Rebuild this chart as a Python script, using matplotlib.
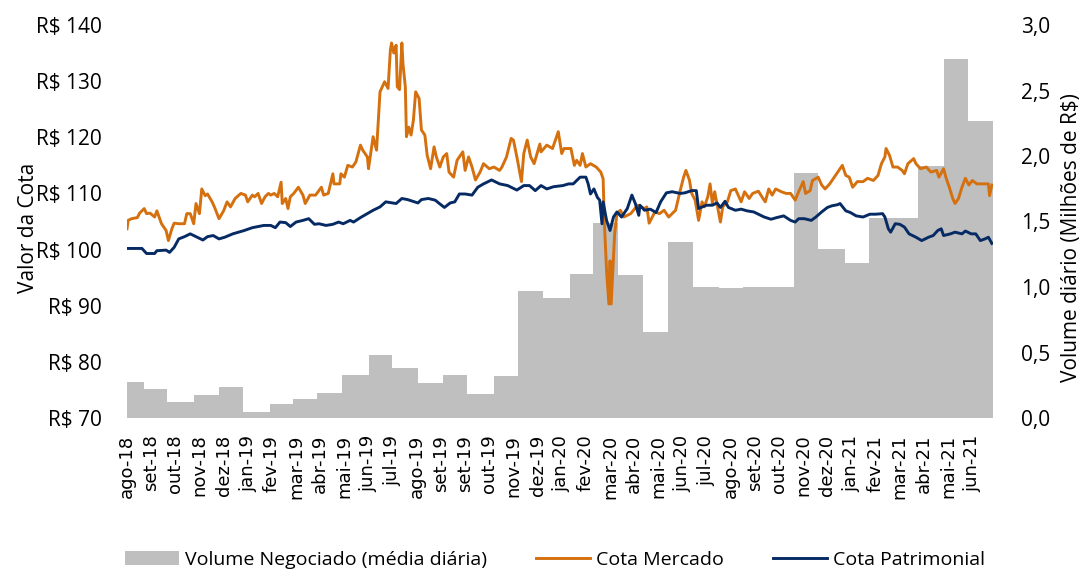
import numpy as np
import matplotlib.pyplot as plt
from matplotlib.patches import Patch
from matplotlib.lines import Line2D

# eixo x em dias úteis (como o gráfico original, por pregão)
inicio = np.datetime64('2018-08-13')
fim = np.datetime64('2021-07-01')

# volume negociado, média diária por mês (milhões de R$)
meses = np.arange('2018-08', '2021-07', dtype='datetime64[M]')
volume = [0.275, 0.22, 0.12, 0.175, 0.24,
          0.045, 0.11, 0.145, 0.19, 0.33, 0.48, 0.38, 0.27, 0.33, 0.185, 0.32, 0.97,
          0.915, 1.10, 1.49, 1.09, 0.66, 1.345, 1.00, 0.99, 1.00, 1.00, 1.87, 1.29,
          1.18, 1.525, 1.525, 1.92, 2.74, 2.27]

merc_datas = [
    '2018-08-13', '2018-08-14', '2018-08-17', '2018-08-24', '2018-08-28', '2018-09-03',
    '2018-09-05', '2018-09-10', '2018-09-14', '2018-09-18', '2018-09-21', '2018-09-24',
    '2018-09-28', '2018-10-02', '2018-10-05', '2018-10-09', '2018-10-15', '2018-10-22',
    '2018-10-24', '2018-10-29', '2018-11-01', '2018-11-05', '2018-11-08', '2018-11-12',
    '2018-11-15', '2018-11-19', '2018-11-23', '2018-11-27', '2018-12-03', '2018-12-07',
    '2018-12-12', '2018-12-17', '2018-12-21', '2018-12-28', '2019-01-03', '2019-01-07',
    '2019-01-11', '2019-01-15', '2019-01-18', '2019-01-23', '2019-01-28', '2019-01-31',
    '2019-02-04', '2019-02-07', '2019-02-12', '2019-02-15', '2019-02-18', '2019-02-21',
    '2019-02-25', '2019-02-27', '2019-03-04', '2019-03-08', '2019-03-14', '2019-03-18',
    '2019-03-22', '2019-03-29', '2019-04-05', '2019-04-09', '2019-04-15', '2019-04-19',
    '2019-04-22', '2019-04-29', '2019-04-30', '2019-05-03', '2019-05-08', '2019-05-14',
    '2019-05-17', '2019-05-23', '2019-05-27', '2019-05-31', '2019-06-03', '2019-06-07',
    '2019-06-12', '2019-06-17', '2019-06-21', '2019-06-26', '2019-06-28', '2019-07-01',
    '2019-07-03', '2019-07-05', '2019-07-08', '2019-07-10', '2019-07-12', '2019-07-15',
    '2019-07-17', '2019-07-18', '2019-07-22', '2019-07-24', '2019-07-26', '2019-07-30',
    '2019-08-02', '2019-08-06', '2019-08-09', '2019-08-13', '2019-08-16', '2019-08-21',
    '2019-08-23', '2019-08-28', '2019-09-02', '2019-09-05', '2019-09-09', '2019-09-13',
    '2019-09-18', '2019-09-20', '2019-09-25', '2019-09-27', '2019-10-02', '2019-10-07',
    '2019-10-10', '2019-10-16', '2019-10-21', '2019-10-28', '2019-11-01', '2019-11-08',
    '2019-11-12', '2019-11-18', '2019-11-22', '2019-11-26', '2019-11-29', '2019-12-05',
    '2019-12-09', '2019-12-12', '2019-12-17', '2019-12-20', '2019-12-27', '2019-12-30',
    '2020-01-06', '2020-01-13', '2020-01-16', '2020-01-20', '2020-01-23', '2020-01-27',
    '2020-02-04', '2020-02-07', '2020-02-11', '2020-02-14', '2020-02-18', '2020-02-21',
    '2020-02-27', '2020-03-05', '2020-03-11', '2020-03-13', '2020-03-16', '2020-03-18',
    '2020-03-20', '2020-03-23', '2020-03-24', '2020-03-27', '2020-03-31', '2020-04-03',
    '2020-04-08', '2020-04-16', '2020-04-24', '2020-05-04', '2020-05-06', '2020-05-08',
    '2020-05-15', '2020-05-21', '2020-05-27', '2020-06-02', '2020-06-10', '2020-06-16',
    '2020-06-19', '2020-06-23', '2020-06-26', '2020-06-30', '2020-07-03', '2020-07-08',
    '2020-07-13', '2020-07-15', '2020-07-20', '2020-07-22', '2020-07-24', '2020-07-28',
    '2020-07-31', '2020-08-04', '2020-08-06', '2020-08-12', '2020-08-17', '2020-08-21',
    '2020-08-25', '2020-08-28', '2020-09-02', '2020-09-08', '2020-09-11', '2020-09-18',
    '2020-09-24', '2020-09-28', '2020-10-01', '2020-10-06', '2020-10-09', '2020-10-16',
    '2020-10-22', '2020-10-28', '2020-11-03', '2020-11-06', '2020-11-12', '2020-11-16',
    '2020-11-20', '2020-11-24', '2020-12-01', '2020-12-04', '2020-12-09', '2020-12-15',
    '2020-12-21', '2020-12-28', '2020-12-30', '2021-01-04', '2021-01-07', '2021-01-12',
    '2021-01-18', '2021-01-25', '2021-01-29', '2021-02-05', '2021-02-11', '2021-02-16',
    '2021-02-19', '2021-02-22', '2021-02-25', '2021-03-02', '2021-03-08', '2021-03-12',
    '2021-03-16', '2021-03-19', '2021-03-26', '2021-03-30', '2021-04-05', '2021-04-12',
    '2021-04-16', '2021-04-23', '2021-04-27', '2021-05-03', '2021-05-05', '2021-05-10',
    '2021-05-13', '2021-05-17', '2021-05-20', '2021-05-25', '2021-05-28', '2021-06-02',
    '2021-06-07', '2021-06-11', '2021-06-21', '2021-06-25', '2021-06-28', '2021-06-30']
merc_valores = [
    103.7, 105.2, 105.5, 105.7, 106.5, 107.3,
    106.4, 106.5, 105.8, 106.9, 105.2, 104.6,
    103.4, 101.6, 103.7, 104.7, 104.6, 104.6,
    106.4, 106.4, 104.6, 108.2, 106.4, 110.8,
    109.6, 109.9, 108.5, 107.6, 105.5, 106.9,
    108.5, 107.6, 109.1, 110.0, 109.7, 108.5,
    109.7, 109.4, 110.0, 108.2, 109.4, 110.0,
    109.7, 110.0, 109.4, 112.0, 108.2, 109.1,
    107.3, 109.4, 110.0, 111.1, 109.7, 108.2,
    109.7, 109.7, 111.1, 109.7, 110.0, 113.5,
    111.7, 111.7, 113.5, 112.9, 115.0, 114.7,
    115.6, 118.6, 117.7, 116.5, 114.4, 120.1,
    117.7, 128.1, 129.9, 128.7, 135.5, 136.8,
    135.0, 136.4, 129.0, 128.5, 136.8, 133.0,
    129.0, 120.1, 121.8, 120.4, 123.0, 128.1,
    126.9, 121.3, 120.4, 116.8, 114.4, 118.3,
    116.5, 114.7, 116.5, 117.1, 113.8, 112.9,
    115.9, 116.5, 117.4, 114.1, 116.5, 114.7,
    112.4, 113.8, 115.3, 114.4, 114.7, 114.1,
    114.7, 116.5, 119.8, 119.5, 116.5, 112.1,
    117.1, 119.5, 116.5, 115.3, 118.8, 117.4,
    118.6, 118.0, 119.8, 121.0, 117.1, 118.0,
    118.0, 115.0, 115.9, 115.0, 117.1, 114.7,
    115.3, 114.7, 113.8, 112.6, 105.2, 96.2,
    90.3, 98.0, 90.3, 102.8, 106.4, 107.0,
    105.8, 106.4, 107.9, 107.3, 107.6, 104.7,
    106.7, 106.4, 107.0, 105.8, 107.0, 110.5,
    112.9, 114.1, 112.4, 110.0, 108.8, 105.2,
    108.5, 107.6, 109.4, 111.7, 108.2, 110.3,
    107.0, 104.9, 107.6, 108.5, 110.5, 110.8,
    109.9, 108.5, 110.3, 109.1, 110.0, 110.4,
    109.1, 108.5, 110.8, 109.7, 110.8, 110.3,
    110.0, 110.0, 108.8, 110.3, 112.1, 110.0,
    110.5, 112.3, 112.9, 111.5, 110.8, 111.7,
    112.9, 114.4, 115.0, 113.2, 112.9, 111.1,
    112.1, 112.1, 112.7, 112.3, 113.2, 115.3,
    116.5, 118.0, 116.8, 114.7, 114.7, 114.1,
    113.5, 115.3, 116.2, 115.3, 114.4, 114.7,
    113.8, 114.1, 112.9, 114.4, 112.9, 111.1,
    109.1, 108.2, 109.1, 111.1, 112.7, 111.5,
    112.3, 111.7, 111.7, 111.7, 109.6, 111.5]

patr_datas = [
    '2018-08-13', '2018-08-30', '2018-09-05', '2018-09-14', '2018-09-18', '2018-09-28',
    '2018-10-03', '2018-10-09', '2018-10-15', '2018-10-22', '2018-10-29', '2018-11-05',
    '2018-11-13', '2018-11-19', '2018-11-26', '2018-12-03', '2018-12-10', '2018-12-19',
    '2019-01-02', '2019-01-11', '2019-01-18', '2019-01-25', '2019-02-04', '2019-02-08',
    '2019-02-14', '2019-02-21', '2019-02-27', '2019-03-06', '2019-03-14', '2019-03-21',
    '2019-03-28', '2019-04-03', '2019-04-11', '2019-04-19', '2019-04-26', '2019-05-02',
    '2019-05-10', '2019-05-15', '2019-05-23', '2019-05-31', '2019-06-07', '2019-06-17',
    '2019-06-24', '2019-07-05', '2019-07-12', '2019-07-19', '2019-08-01', '2019-08-06',
    '2019-08-14', '2019-08-22', '2019-08-27', '2019-09-03', '2019-09-10', '2019-09-16',
    '2019-09-20', '2019-09-27', '2019-10-07', '2019-10-14', '2019-10-21', '2019-10-30',
    '2019-11-08', '2019-11-19', '2019-11-29', '2019-12-09', '2019-12-16', '2019-12-23',
    '2019-12-30', '2020-01-06', '2020-01-14', '2020-01-24', '2020-01-31', '2020-02-06',
    '2020-02-14', '2020-02-21', '2020-02-25', '2020-02-27', '2020-03-03', '2020-03-06',
    '2020-03-10', '2020-03-12', '2020-03-13', '2020-03-18', '2020-03-23', '2020-03-26',
    '2020-03-31', '2020-04-06', '2020-04-13', '2020-04-17', '2020-04-22', '2020-04-27',
    '2020-04-28', '2020-05-04', '2020-05-11', '2020-05-18', '2020-05-22', '2020-05-29',
    '2020-06-05', '2020-06-16', '2020-06-22', '2020-06-30', '2020-07-06', '2020-07-08',
    '2020-07-10', '2020-07-17', '2020-07-24', '2020-07-30', '2020-08-04', '2020-08-10',
    '2020-08-13', '2020-08-21', '2020-08-28', '2020-09-04', '2020-09-14', '2020-09-18',
    '2020-09-25', '2020-10-05', '2020-10-12', '2020-10-20', '2020-10-28', '2020-11-03',
    '2020-11-06', '2020-11-13', '2020-11-23', '2020-11-27', '2020-12-04', '2020-12-11',
    '2020-12-17', '2020-12-24', '2020-12-28', '2021-01-04', '2021-01-08', '2021-01-15',
    '2021-01-25', '2021-02-02', '2021-02-09', '2021-02-17', '2021-02-19', '2021-02-24',
    '2021-02-26', '2021-03-04', '2021-03-10', '2021-03-16', '2021-03-22', '2021-03-30',
    '2021-04-06', '2021-04-14', '2021-04-20', '2021-04-26', '2021-04-29', '2021-05-03',
    '2021-05-11', '2021-05-17', '2021-05-25', '2021-05-28', '2021-06-04', '2021-06-10',
    '2021-06-16', '2021-06-22', '2021-06-25', '2021-06-30']
patr_valores = [
    100.2, 100.2, 99.3, 99.3, 99.8, 99.9,
    99.5, 100.4, 101.9, 102.3, 102.8, 102.3,
    101.7, 102.3, 102.5, 101.9, 102.2, 102.8,
    103.4, 103.9, 104.1, 104.3, 104.3, 103.9,
    104.9, 104.8, 104.1, 104.9, 105.2, 105.5,
    104.5, 104.6, 104.3, 104.5, 104.9, 104.6,
    105.2, 104.9, 105.7, 106.4, 107.0, 107.6,
    108.5, 108.2, 109.1, 108.9, 108.3, 108.9,
    109.1, 108.8, 108.3, 107.5, 108.3, 108.5,
    109.9, 109.9, 109.7, 111.1, 111.7, 112.4,
    111.7, 111.4, 110.6, 111.4, 111.4, 110.5,
    111.4, 110.8, 111.2, 111.4, 111.7, 111.7,
    112.9, 112.9, 111.7, 109.9, 110.8, 109.3,
    108.8, 104.6, 108.5, 105.2, 103.4, 105.8,
    106.7, 105.8, 107.3, 109.7, 108.2, 106.1,
    107.9, 107.0, 107.2, 106.6, 108.5, 110.1,
    110.3, 110.0, 110.1, 110.5, 110.5, 107.3,
    107.5, 107.9, 107.9, 108.3, 107.5, 108.6,
    107.5, 107.0, 107.2, 106.9, 106.7, 106.3,
    105.8, 105.4, 105.7, 106.0, 105.2, 104.9,
    105.5, 105.5, 105.2, 105.8, 106.7, 107.5,
    107.8, 108.0, 108.2, 106.9, 106.6, 106.0,
    105.8, 106.3, 106.3, 106.4, 105.8, 103.7,
    103.1, 104.6, 104.5, 104.0, 102.8, 102.2,
    101.6, 102.2, 102.5, 103.4, 103.7, 102.5,
    102.8, 103.1, 102.8, 103.3, 102.8, 102.8,
    101.6, 101.9, 102.2, 101.1]

rotulos_x = ['ago-18', 'set-18', 'out-18', 'nov-18', 'dez-18', 'jan-19', 'fev-19',
             'mar-19', 'abr-19', 'mai-19', 'jun-19', 'jul-19', 'ago-19', 'set-19',
             'set-19', 'out-19', 'nov-19', 'dez-19', 'jan-20', 'fev-20', 'mar-20',
             'abr-20', 'mai-20', 'jun-20', 'jul-20', 'ago-20', 'set-20', 'out-20',
             'nov-20', 'dez-20', 'jan-21', 'fev-21', 'mar-21', 'abr-21', 'mai-21',
             'jun-21']
ultimo_rotulo = np.datetime64('2021-06-07')

cor_merc = '#D5700F'
cor_patr = '#062A63'
cor_vol = '#BFBFBF'

plt.rcParams['font.family'] = ['Open Sans', 'DejaVu Sans']


def pos(datas):
    return np.busday_count(inicio, np.array(datas, dtype='datetime64[D]'))


fig = plt.figure(figsize=(10.84, 5.71), dpi=100)
ax = fig.add_axes([127 / 1084, 1 - 418 / 571, 866 / 1084, 393 / 571])
ax2 = ax.twinx()

# barras mensais de volume
ini_mes = np.maximum(meses.astype('datetime64[D]'), inicio)
fim_mes = (meses + 1).astype('datetime64[D]')
x_ini = pos(ini_mes)
ax2.bar(x_ini, volume, width=pos(fim_mes) - x_ini, align='edge',
        color=cor_vol, linewidth=0)

ax.plot(pos(merc_datas), merc_valores, color=cor_merc, lw=2.1)
ax.plot(pos(patr_datas), patr_valores, color=cor_patr, lw=2.1)

ax.set_zorder(ax2.get_zorder() + 1)
ax.patch.set_visible(False)

xmax = pos([fim])[0]
ax.set_xlim(0, xmax)
ax.set_ylim(70, 140)
ax2.set_ylim(0, 3)

ax.set_yticks(range(70, 141, 10))
ax.set_yticklabels([f'R$ {v}' for v in range(70, 141, 10)], fontsize=15)
ax2.set_yticks(np.arange(0, 3.01, 0.5))
ax2.set_yticklabels([f'{v:.1f}'.replace('.', ',') for v in np.arange(0, 3.01, 0.5)],
                    fontsize=15)

ax.set_xticks(np.linspace(0, pos([ultimo_rotulo])[0], len(rotulos_x)))
ax.set_xticklabels(rotulos_x, rotation=90)

ax.tick_params(axis='y', length=0, pad=18)
ax2.tick_params(axis='y', length=0, pad=20)
ax.tick_params(axis='x', length=0, pad=12, labelsize=13,
               labelfontfamily='DejaVu Sans')
for a in (ax, ax2):
    for s in a.spines.values():
        s.set_visible(False)

fig.text(28 / 1084, 1 - 228 / 571, 'Valor da Cota', rotation=90,
         ha='center', va='center', fontsize=15)
fig.text(1071 / 1084, 1 - 238 / 571, 'Volume diário (Milhões de R$)', rotation=90,
         ha='center', va='center', fontsize=15)

alcas = [Patch(facecolor=cor_vol, edgecolor='none'),
         Line2D([], [], color=cor_merc, lw=2.1),
         Line2D([], [], color=cor_patr, lw=2.1)]
fig.legend(alcas, ['Volume Negociado (média diária)', 'Cota Mercado', 'Cota Patrimonial'],
           loc='lower center', bbox_to_anchor=(0.512, -0.027), ncol=3, frameon=False,
           fontsize=14, handlelength=2.8, handletextpad=0.3, columnspacing=2.5)

fig.savefig('out.png', dpi=100)
